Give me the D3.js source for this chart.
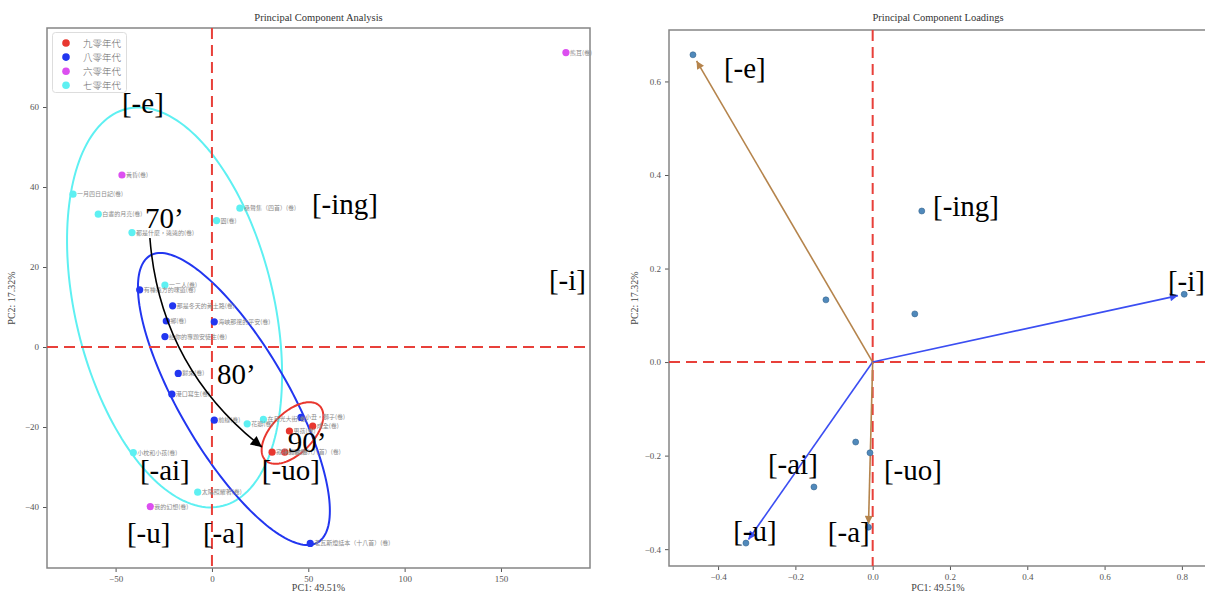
<!DOCTYPE html>
<html>
<head>
<meta charset="utf-8">
<script src="https://cdn.jsdelivr.net/npm/d3@7"></script>
<style>
  body { margin: 0; background: #fff; }
  text { font-family: "Liberation Serif", "DejaVu Serif", serif; }
  .cjk { font-family: "Noto Sans CJK TC", "Noto Sans CJK SC", sans-serif; }
</style>
</head>
<body>
<svg id="chart" width="1205" height="593"></svg>
<script>
// ---- left panel: scores ----
const decades = ["九零年代", "八零年代", "六零年代", "七零年代"];
const decadeColors = ["#e8372f", "#2236f0", "#dc4ff0", "#5ef0f2"];

const poemNames = [
  "熊耳(卷)", "黃昏(卷)", "一月四日日記(卷)", "白晝的月亮(卷)", "都是什麼，遠遠的(卷)",
  "桑聲集（四首）(卷)", "園(卷)", "一二人(卷)", "有種遠方的味道(卷)", "那是冬天的黃土路(卷)",
  "鄉(卷)", "海峽那邊的平安(卷)", "給你的專題安徒生(卷)", "歸來(卷)", "港口寫生(卷)",
  "前線(卷)", "花瓣(卷)", "在月光大街(卷)", "小丑，獅子(卷)", "成全(卷)",
  "男孩(卷)", "寂靜的歌(卷)", "新歌集（八首）(卷)", "小枕和小孩(卷)", "太陽照耀著(卷)",
  "我的幻想(卷)", "老瓦斯燈話本（十八首）(卷)"
];
const poemDecade = [
  "六零年代", "六零年代", "七零年代", "七零年代", "七零年代",
  "七零年代", "七零年代", "七零年代", "八零年代", "八零年代",
  "八零年代", "八零年代", "八零年代", "八零年代", "八零年代",
  "八零年代", "七零年代", "七零年代", "八零年代", "九零年代",
  "九零年代", "九零年代", "九零年代", "七零年代", "七零年代",
  "六零年代", "八零年代"
];
const pc1 = [183.7, -46.7, -72.1, -59.0, -41.5, 14.5, 2.4, -24.4, -37.5, -20.4,
             -23.7, 1.2, -24.4, -17.5, -20.8, 1.2, 18.3, 26.7, 46.2, 52.3,
             40.2, 31.2, 37.8, -40.8, -7.4, -32.0, 51.0];
const pc2 = [73.6, 43.0, 38.2, 33.2, 28.6, 34.7, 31.6, 15.5, 14.3, 10.3,
             6.5, 6.3, 2.6, -6.6, -11.8, -18.3, -19.2, -18.1, -17.6, -19.8,
             -21.0, -26.3, -26.3, -26.4, -36.3, -39.9, -49.1];

// confidence ellipses: centre, half extent in x / y, correlation
const ellipseDecade = ["七零年代", "八零年代", "九零年代"];
const ellipseCx = [-19.4, 11.4, 41.8];
const ellipseCy = [9.9, -13.0, -21.5];
const ellipseSx = [55.8, 49.8, 16.0];
const ellipseSy = [50.0, 36.5, 7.7];
const ellipseRho = [-0.335, -0.766, 0.55];

const leftNotes = ["[-e]", "70’", "[-ing]", "[-i]", "80’", "90’", "[-ai]", "[-uo]", "[-u]", "[-a]"];
const leftNoteX = [-46.7, -34.8, 51.9, 174.9, 2.6, 39.4, -37.4, 25.9, -44.1, -4.7];
const leftNoteY = [58.5, 29.75, 33.25, 14.25, -9.25, -26.25, -33.25, -33.25, -49, -49];

// curved arrow 70' -> 90'
const trendFrom = [-32.2, 27.25];
const trendTo = [25.9, -25.0];

// ---- right panel: loadings ----
const features = ["e", "ing", "i", "f4", "f5", "f6", "uo", "ai", "a", "u"];
const loadX = [-0.465, 0.127, 0.806, -0.121, 0.109, -0.044, -0.007, -0.152, -0.011, -0.328];
const loadY = [0.657, 0.323, 0.145, 0.133, 0.103, -0.171, -0.194, -0.267, -0.353, -0.387];
const arrowFeatures = ["e", "i", "u", "a"];
const arrowColors = ["#b5844c", "#3b4ef2", "#3b4ef2", "#b5844c"];

const rightNotes = ["[-e]", "[-ing]", "[-i]", "[-ai]", "[-uo]", "[-u]", "[-a]"];
const rightNoteX = [-0.385, 0.156, 0.764, -0.271, 0.029, -0.361, -0.116];
const rightNoteY = [0.607, 0.312, 0.152, -0.240, -0.252, -0.383, -0.385];

const svg = d3.select("#chart");

const defs = svg.append("defs");
function marker(id, color, w, h) {
  defs.append("marker")
    .attr("id", id)
    .attr("viewBox", "0 0 10 10")
    .attr("refX", 10).attr("refY", 5)
    .attr("markerUnits", "userSpaceOnUse")
    .attr("markerWidth", w).attr("markerHeight", h)
    .attr("orient", "auto")
    .append("path").attr("d", "M0,0 L10,5 L0,10 z").attr("fill", color);
}
marker("headK", "#000", 15, 11);
marker("headBlue", "#3b4ef2", 11, 8);
marker("headBrown", "#b5844c", 11, 8);

function axes(x, y, xt, yt, fmt, title, ylabX) {
  const [x0, x1] = x.range();
  const [y0, y1] = y.range();
  const gx = svg.append("g")
    .attr("transform", `translate(0,${y0})`)
    .call(d3.axisBottom(x).tickValues(xt).tickFormat(fmt).tickSize(4).tickPadding(4));
  const gy = svg.append("g")
    .attr("transform", `translate(${x0},0)`)
    .call(d3.axisLeft(y).tickValues(yt).tickFormat(fmt).tickSize(4).tickPadding(4));
  [gx, gy].forEach(g => {
    g.select(".domain").remove();
    g.selectAll(".tick line").attr("stroke", "#555");
    g.selectAll(".tick text").attr("fill", "#555").style("font-size", "9px")
      .style("font-family", '"Liberation Serif", serif');
  });
  svg.append("rect")
    .attr("x", x0).attr("y", y1)
    .attr("width", x1 - x0).attr("height", y0 - y1)
    .attr("fill", "none").attr("stroke", "#858585").attr("stroke-width", 1.5);
  const cx = (x0 + x1) / 2;
  svg.append("text").attr("x", cx).attr("y", 21).attr("text-anchor", "middle")
    .attr("fill", "#333").style("font-size", "10.5px").text(title);
  svg.append("text").attr("x", cx).attr("y", 591).attr("text-anchor", "middle")
    .attr("fill", "#444").style("font-size", "10px").text("PC1: 49.51%");
  svg.append("text")
    .attr("transform", `translate(${ylabX},${(y0 + y1) / 2}) rotate(-90)`)
    .attr("text-anchor", "middle").attr("fill", "#444").style("font-size", "10px")
    .text("PC2: 17.32%");
}

function zeroLines(x, y) {
  const [x0, x1] = x.range();
  const [y0, y1] = y.range();
  const g = svg.append("g").attr("stroke", "#e8403a").attr("stroke-width", 2)
    .attr("stroke-dasharray", "11,6");
  g.append("line").attr("x1", x(0)).attr("x2", x(0)).attr("y1", y1).attr("y2", y0);
  g.append("line").attr("x1", x0).attr("x2", x1).attr("y1", y(0)).attr("y2", y(0));
}

// ================= left panel =================
const xL = d3.scaleLinear().domain([-85.6, 196.2]).range([47, 590]);
const yL = d3.scaleLinear().domain([-55.25, 79.75]).range([568, 28]);
const color = d3.scaleOrdinal().domain(decades).range(decadeColors);

axes(xL, yL, [-50, 0, 50, 100, 150], [-40, -20, 0, 20, 40, 60], d3.format("d"),
  "Principal Component Analysis", 15);

// ellipses
const ellLine = d3.line().x(d => xL(d[0])).y(d => yL(d[1])).curve(d3.curveLinearClosed);
ellipseDecade.forEach((dec, i) => {
  const rx = Math.sqrt(1 + ellipseRho[i]), ry = Math.sqrt(1 - ellipseRho[i]);
  const pts = d3.range(0, 2 * Math.PI, Math.PI / 90).map(t => {
    const u = rx * Math.cos(t), v = ry * Math.sin(t);
    return [ellipseCx[i] + ellipseSx[i] * (u - v) / Math.SQRT2,
            ellipseCy[i] + ellipseSy[i] * (u + v) / Math.SQRT2];
  });
  svg.append("path").attr("d", ellLine(pts))
    .attr("fill", "none").attr("stroke", color(dec)).attr("stroke-width", 2);
});

zeroLines(xL, yL);

// points + small labels
const poems = poemNames.map((n, i) => ({ name: n, dec: poemDecade[i], x: pc1[i], y: pc2[i] }));
svg.append("g").selectAll("circle").data(poems).join("circle")
  .attr("cx", d => xL(d.x)).attr("cy", d => yL(d.y)).attr("r", 3.6)
  .attr("fill", d => color(d.dec));
svg.append("g").selectAll("text").data(poems).join("text")
  .attr("class", "cjk")
  .attr("x", d => xL(d.x) + 4).attr("y", d => yL(d.y) + 2)
  .attr("fill", "#8a8a8a").style("font-size", "6px")
  .text(d => d.name);

// legend
const lg = svg.append("g");
lg.append("rect").attr("x", 52.5).attr("y", 32.5).attr("width", 74).attr("height", 60)
  .attr("rx", 3).attr("fill", "#fff").attr("fill-opacity", 0.85)
  .attr("stroke", "#ddd");
decades.forEach((d, i) => {
  lg.append("circle").attr("cx", 66).attr("cy", 43 + i * 14.1).attr("r", 3.8).attr("fill", color(d));
  lg.append("text").attr("class", "cjk").attr("x", 83).attr("y", 46.5 + i * 14.1)
    .attr("fill", "#666").style("font-size", "9.5px").style("font-weight", 300).text(d);
});

// curved trend arrow
{
  const p0 = [xL(trendFrom[0]), yL(trendFrom[1])];
  const p1 = [xL(trendTo[0]), yL(trendTo[1])];
  const rad = 0.22;
  const mx = (p0[0] + p1[0]) / 2, my = (p0[1] + p1[1]) / 2;
  const dx = p1[0] - p0[0], dy = p1[1] - p0[1];
  const c = [mx - rad * dy, my + rad * dx];
  svg.append("path")
    .attr("d", `M${p0[0]},${p0[1]} Q${c[0]},${c[1]} ${p1[0]},${p1[1]}`)
    .attr("fill", "none").attr("stroke", "#000").attr("stroke-width", 1.6)
    .attr("marker-end", "url(#headK)");
}

svg.append("g").selectAll("text").data(leftNotes).join("text")
  .attr("x", (d, i) => xL(leftNoteX[i])).attr("y", (d, i) => yL(leftNoteY[i]))
  .attr("fill", "#000").style("font-size", "29px").text(d => d);

// ================= right panel =================
const xR = d3.scaleLinear().domain([-0.527, 0.865]).range([669, 1207]);
const yR = d3.scaleLinear().domain([-0.436, 0.71]).range([566, 30]);

axes(xR, yR, [-0.4, -0.2, 0, 0.2, 0.4, 0.6, 0.8], [-0.4, -0.2, 0, 0.2, 0.4, 0.6],
  d3.format(".1f"), "Principal Component Loadings", 638);

zeroLines(xR, yR);

arrowFeatures.forEach((f, i) => {
  const k = features.indexOf(f);
  svg.append("line")
    .attr("x1", xR(0)).attr("y1", yR(0))
    .attr("x2", xR(loadX[k] * 0.98)).attr("y2", yR(loadY[k] * 0.98))
    .attr("stroke", arrowColors[i]).attr("stroke-width", 1.6)
    .attr("marker-end", arrowColors[i] === "#b5844c" ? "url(#headBrown)" : "url(#headBlue)");
});

svg.append("g").selectAll("circle").data(features).join("circle")
  .attr("cx", (d, i) => xR(loadX[i])).attr("cy", (d, i) => yR(loadY[i]))
  .attr("r", 3).attr("fill", "#5089bb").attr("stroke", "#35648f").attr("stroke-width", 0.6);

svg.append("g").selectAll("text").data(rightNotes).join("text")
  .attr("x", (d, i) => xR(rightNoteX[i])).attr("y", (d, i) => yR(rightNoteY[i]))
  .attr("fill", "#000").style("font-size", "29px").text(d => d);
</script>
</body>
</html>
